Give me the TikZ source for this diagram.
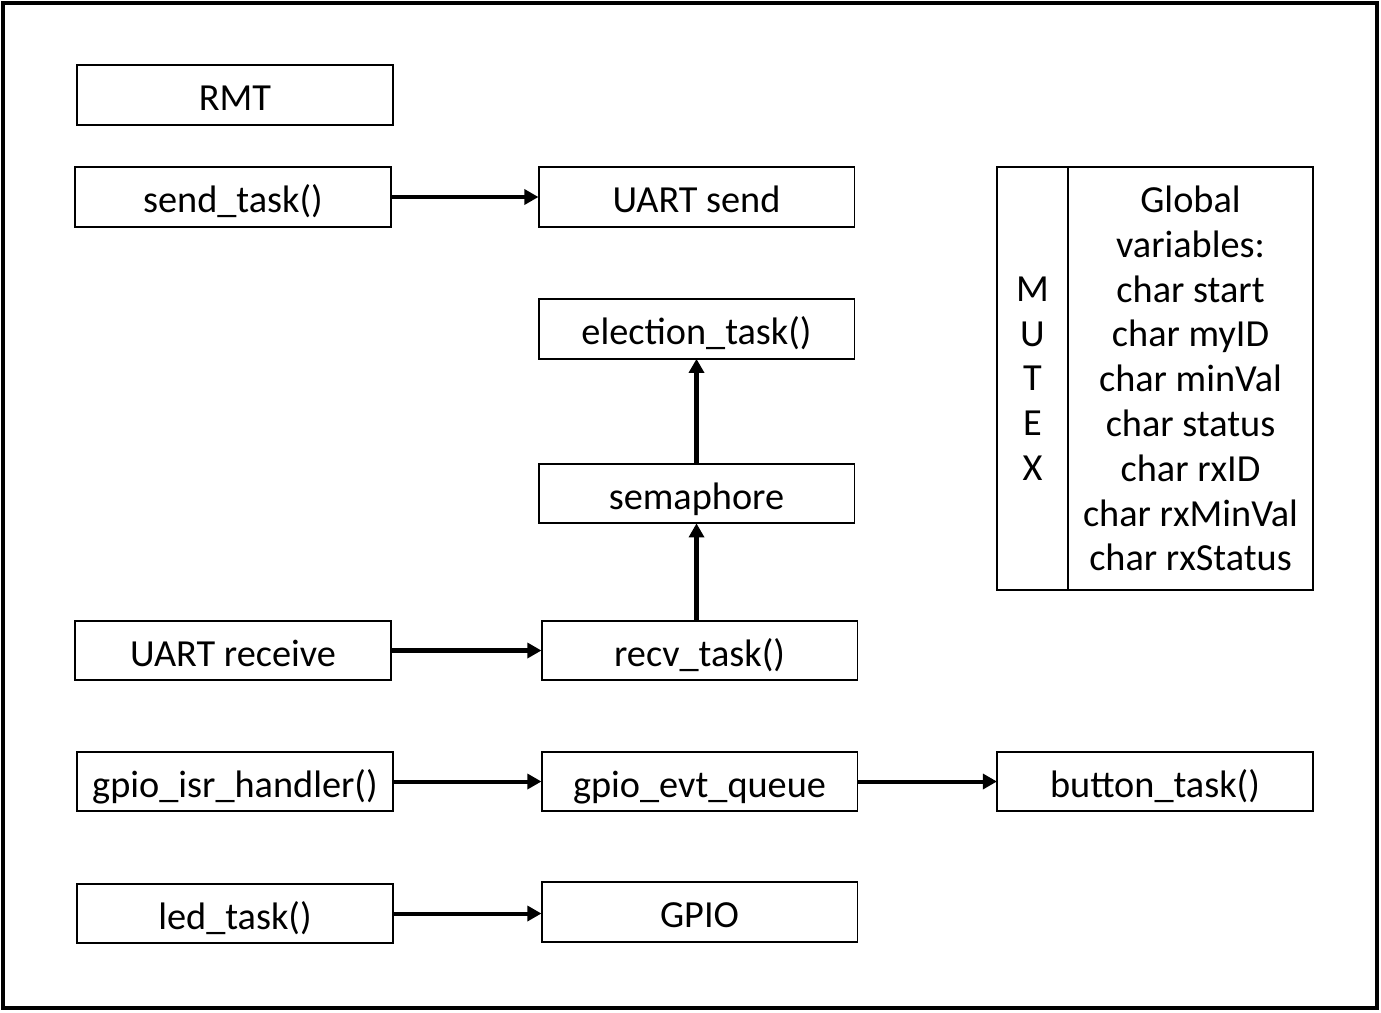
\documentclass[tikz,border=0pt]{standalone}
\usepackage{fontspec}
\setmainfont{Carlito}
\usetikzlibrary{arrows.meta}
\begin{document}
\begin{tikzpicture}[x=0.02cm, y=-0.02cm]
		\tikzset{col/.style={draw=black, line width=1.1pt, inner sep=0pt, align=center, minimum height=8.46cm, font=\fontsize{21.8pt}{25.5pt}\selectfont}};
		\tikzset{bx/.style={col, minimum width=6.32cm, minimum height=1.19cm, text height=23pt, text depth=5pt}};
		\tikzset{arr/.style={line width=2.3pt, -{Triangle[length=8pt, width=8.5pt]}, shorten >=-0.5pt}};

		\useasboundingbox (0, 0) rectangle (1381, 1012);
		\draw[line width=2.8pt] (3, 3) rectangle (1377, 1008);

		\node[bx] (rmt) at (235, 95) {RMT};
		\node[bx] (send) at (233, 197) {send\_task()};
		\node[bx] (usend) at (696.5, 197) {UART send};
		\node[bx] (elect) at (696.5, 329) {election\_task()};
		\node[bx] (sem) at (696.5, 493.5) {semaphore};
		\node[bx] (urecv) at (233, 650.5) {UART receive};
		\node[bx] (recv) at (699.5, 650.5) {recv\_task()};
		\node[bx] (isr) at (235, 781.5) {gpio\_isr\_handler()};
		\node[bx] (queue) at (699.5, 781.5) {gpio\_evt\_queue};
		\node[bx] (button) at (1155, 781.5) {button\_task()};
		\node[bx] (led) at (235, 913.5) {led\_task()};
		\node[bx] (gpio) at (699.5, 912) {GPIO};

		\node[col, minimum width=1.42cm] (mutex) at (1032.5, 378.5) {M\\U\\T\\E\\X};
		\node[col, minimum width=4.9cm] (vars) at (1190.5, 378.5) {Global\\variables:\\char start\\char myID\\char minVal\\char status\\char rxID\\char rxMinVal\\char rxStatus};

		\draw[arr] (send) to (usend);
		\draw[arr] (sem.north -| elect) to (elect.south);
		\draw[arr] (recv.north -| sem) to (sem.south);
		\draw[arr] (urecv) to (recv);
		\draw[arr] (isr) to (queue);
		\draw[arr] (queue) to (button);
		\draw[arr] (led.east) to (gpio.west |- led.east);
	\end{tikzpicture}
\end{document}
